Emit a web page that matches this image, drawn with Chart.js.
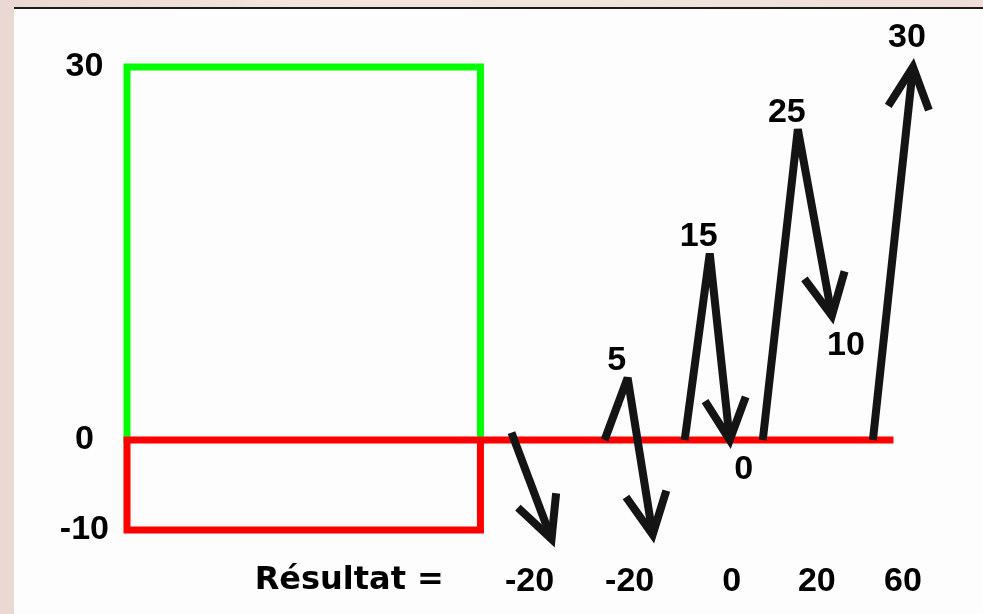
<!DOCTYPE html>
<html>
<head>
<meta charset="utf-8">
<script src="https://cdn.jsdelivr.net/npm/chart.js@4.4.1/dist/chart.umd.min.js"></script>
<style>
  html, body { margin: 0; padding: 0; }
  body {
    width: 983px;
    height: 614px;
    overflow: hidden;
    position: relative;
    background: linear-gradient(90deg, #ead8d2, #f3e4dd 30%, #efe3dc 70%, #f0dcd8);
  }
  #cadre {
    position: absolute;
    left: 14px;
    top: 7px;
    width: 969px;
    height: 605px;
    border-top: 2px solid #1c1c1c;
    background: #fdfdfd;
  }
  canvas { display: block; }
</style>
</head>
<body>
<div id="cadre"><canvas id="schema" width="969" height="605"></canvas></div>
<script>
// graduations de l'axe vertical
const Y_TICKS = [30, 0, -10];

// ligne du bas : "Résultat =" puis le résultat de chaque trade
const LIBELLE_RESULTAT = "Résultat =";
const LIBELLE_RESULTAT_X = 22.2;
const RESULTATS = [-20, -20, 0, 20, 60];
const RESULTATS_X = [40.2, 50.2, 60.4, 68.9, 77.5];

// cadre vert (0 -> 30) et cadre rouge (0 -> -10) + ligne du zéro
const vertX = [0, 0, 35.3, 35.3];
const vertY = [0, 30, 30, 0];
const rougeX = [35.3, 35.3, 0, 0, 76.2];
const rougeY = [0, -10, -10, 0, 0];

// flèches (une par trade)
const fleche1X = [38.4, 42.4];
const fleche1Y = [0.6, -11];
const fleche2X = [47.7, 50.0, 52.5];
const fleche2Y = [0, 5, -10.5];
const fleche3X = [55.7, 58.2, 60.2];
const fleche3Y = [0, 15, 0];
const fleche4X = [63.5, 67.0, 70.4];
const fleche4Y = [0, 25, 10];
const fleche5X = [74.5, 78.5];
const fleche5Y = [0, 30];

const FAMILLE = "'Liberation Sans', Arial, sans-serif";
const POLICE = "bold 34px " + FAMILLE;
const PART_NEGATIVE = 90 / 463; // la partie sous zéro est dessinée plus serrée

// échelle en deux morceaux : au-dessus et en dessous de zéro
class EchelleCroquis extends Chart.LinearScale {
  getPixelForValue(v) {
    if (v === null || v === undefined) return NaN;
    let d;
    if (v >= 0) d = PART_NEGATIVE + (1 - PART_NEGATIVE) * (v / this.max);
    else d = PART_NEGATIVE * (1 - v / this.min);
    return this.getPixelForDecimal(d);
  }
  getValueForPixel(p) {
    const d = this.getDecimalForPixel(p);
    if (d >= PART_NEGATIVE) return ((d - PART_NEGATIVE) / (1 - PART_NEGATIVE)) * this.max;
    return this.min * (1 - d / PART_NEGATIVE);
  }
}
EchelleCroquis.id = "croquis";
EchelleCroquis.defaults = Chart.LinearScale.defaults;
Chart.register(EchelleCroquis);

function points(xs, ys) {
  return xs.map((x, i) => ({ x: x, y: ys[i] }));
}

function trait(xs, ys, couleur, ordre, extra) {
  return Object.assign(
    {
      data: points(xs, ys),
      showLine: true,
      borderColor: couleur,
      borderWidth: 7,
      pointRadius: 0,
      fill: false,
      tension: 0,
      clip: false,
      order: ordre,
      borderJoinStyle: "miter",
      borderCapStyle: "square",
    },
    extra || {},
  );
}

const styleFleche = {
  fleche: true,
  borderWidth: 8,
  borderJoinStyle: "bevel",
  borderCapStyle: "butt",
};

// pointes des flèches + valeurs écrites près des sommets
const pointesFleches = {
  id: "pointesFleches",
  afterDatasetsDraw(chart) {
    const ctx = chart.ctx;
    chart.data.datasets.forEach((ds, i) => {
      if (!ds.fleche) return;
      const pts = chart.getDatasetMeta(i).data;
      const fin = pts[pts.length - 1];
      const avant = pts[pts.length - 2];
      const angle = Math.atan2(fin.y - avant.y, fin.x - avant.x);
      const L = 46;
      const A = 0.46;

      ctx.save();
      ctx.strokeStyle = ds.borderColor;
      ctx.lineWidth = ds.borderWidth;
      ctx.lineJoin = "miter";
      ctx.lineCap = "butt";
      ctx.beginPath();
      ctx.moveTo(fin.x - L * Math.cos(angle - A), fin.y - L * Math.sin(angle - A));
      ctx.lineTo(fin.x, fin.y);
      ctx.lineTo(fin.x - L * Math.cos(angle + A), fin.y - L * Math.sin(angle + A));
      ctx.stroke();

      ctx.fillStyle = "#000";
      ctx.font = POLICE;
      ctx.textAlign = "center";
      ctx.textBaseline = "middle";
      ds.data.forEach((p, k) => {
        if (k === 0 || p.y < 0) return;
        const prec = ds.data[k - 1];
        const suiv = ds.data[k + 1];
        const sommet = prec.y < p.y && (!suiv || suiv.y < p.y);
        const el = pts[k];
        if (sommet && suiv) ctx.fillText(String(p.y), el.x - 11, el.y - 17);
        else if (sommet) ctx.fillText(String(p.y), el.x - 6, el.y - 29);
        else ctx.fillText(String(p.y), el.x + 14, el.y + 30);
      });
      ctx.restore();
    });
  },
};

const ticksX = [LIBELLE_RESULTAT_X].concat(RESULTATS_X);
const libellesX = [LIBELLE_RESULTAT].concat(RESULTATS.map(String));

new Chart(document.getElementById("schema"), {
  type: "scatter",
  data: {
    datasets: [
      trait(vertX, vertY, "#00ff00", 3),
      trait(rougeX, rougeY, "#ff0000", 2),
      trait(fleche1X, fleche1Y, "#141414", 0, styleFleche),
      trait(fleche2X, fleche2Y, "#141414", 0, styleFleche),
      trait(fleche3X, fleche3Y, "#141414", 0, styleFleche),
      trait(fleche4X, fleche4Y, "#141414", 0, styleFleche),
      trait(fleche5X, fleche5Y, "#141414", 0, styleFleche),
    ],
  },
  options: {
    responsive: false,
    animation: false,
    events: [],
    layout: { padding: { top: 58, right: 55, bottom: 0, left: 0 } },
    plugins: {
      legend: { display: false },
      tooltip: { enabled: false },
    },
    scales: {
      x: {
        type: "linear",
        min: 0,
        max: 80,
        grid: { display: false, drawTicks: false },
        border: { display: false },
        afterFit: (s) => {
          s.height = 84;
        },
        afterBuildTicks: (s) => {
          s.ticks = ticksX.map((v) => ({ value: v }));
        },
        ticks: {
          autoSkip: false,
          maxRotation: 0,
          padding: 31,
          color: "#000",
          font: (c) =>
            c.index === 0
              ? { family: "'DejaVu Sans', sans-serif", size: 32, weight: "bold" }
              : { family: FAMILLE, size: 34, weight: "bold" },
          callback: (v, i) => libellesX[i],
        },
      },
      y: {
        type: "croquis",
        min: -10,
        max: 30,
        grid: { display: false, drawTicks: false },
        border: { display: false },
        afterFit: (s) => {
          s.width = 113;
        },
        afterBuildTicks: (s) => {
          s.ticks = Y_TICKS.map((v) => ({ value: v }));
        },
        ticks: {
          crossAlign: "center",
          padding: 18,
          color: "#000",
          font: { family: FAMILLE, size: 34, weight: "bold" },
          callback: (v) => String(v),
        },
      },
    },
  },
  plugins: [pointesFleches],
});
</script>
</body>
</html>
